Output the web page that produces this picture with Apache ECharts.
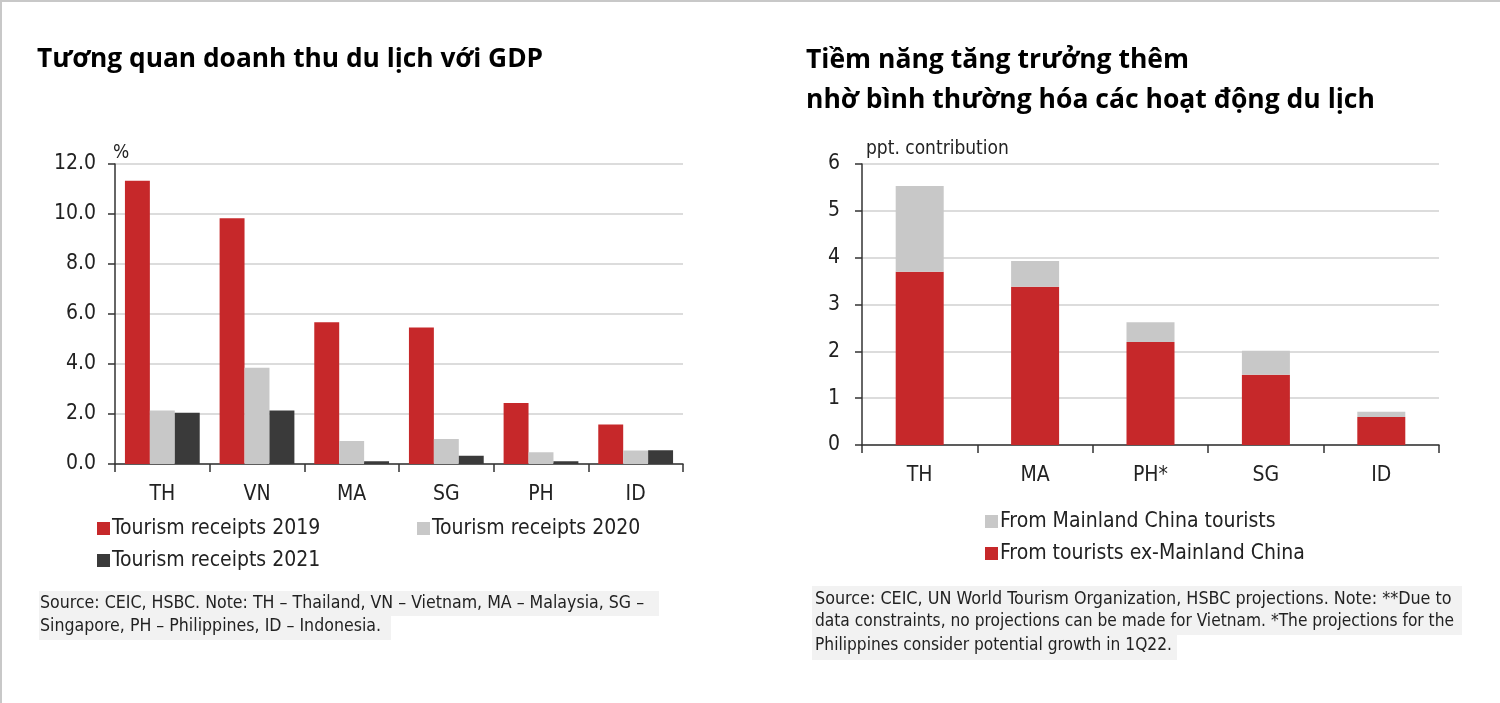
<!DOCTYPE html>
<html>
<head>
<meta charset="utf-8">
<script src="https://cdn.jsdelivr.net/npm/echarts@6/dist/echarts.min.js"></script>
<style>
html,body{margin:0;padding:0;background:#fff;}
#c{width:1500px;height:703px;box-sizing:border-box;border-top:2px solid #c8c8c8;border-left:2px solid #c8c8c8;}
</style>
</head>
<body>
<div id="c"></div>
<script>
// Left chart data
const categoriesL = ['TH', 'VN', 'MA', 'SG', 'PH', 'ID'];
const receipts2019 = [11.33, 9.83, 5.67, 5.46, 2.44, 1.58];
const receipts2020 = [2.14, 3.85, 0.92, 1.0, 0.47, 0.54];
const receipts2021 = [2.05, 2.14, 0.11, 0.33, 0.11, 0.55];
const ticksL = [0, 2, 4, 6, 8, 10, 12];

// Right chart data
const categoriesR = ['TH', 'MA', 'PH*', 'SG', 'ID'];
const fromExChina = [3.70, 3.38, 2.20, 1.50, 0.60];
const fromChina = [1.83, 0.55, 0.42, 0.51, 0.11];
const ticksR = [0, 1, 2, 3, 4, 5, 6];

const NARROW = '"DejaVu Sans Condensed",sans-serif';
const TITLEF = '"Open Sans", Lato, sans-serif';
const RED = '#c6282a', LGRAY = '#c8c8c8', DGRAY = '#3a3a3a';

const chart = echarts.init(document.getElementById('c'), null, {renderer: 'canvas'});

function yAxis(gi, min, max, interval, fmt, name, margin) {
  return {
    type: 'value', gridIndex: gi, min: min, max: max, interval: interval,
    name: name, nameLocation: 'end', nameGap: gi === 0 ? 1 : 5,
    nameTextStyle: {fontFamily: NARROW, fontSize: 19, color: '#222', align: 'left', verticalAlign: 'bottom', padding: [0, 0, 0, gi === 0 ? -2 : 4]},
    axisLine: {show: true, lineStyle: {color: '#333', width: 1.5}},
    axisTick: {show: true, length: 7, lineStyle: {color: '#333', width: 1.5}},
    axisLabel: {fontFamily: NARROW, fontSize: 21, color: '#222', margin: margin, formatter: fmt},
    splitLine: {show: true, lineStyle: {color: '#dcdcdc', width: 2}}
  };
}
function xAxis(gi, cats) {
  return {
    type: 'category', gridIndex: gi, data: cats,
    axisLine: {show: true, lineStyle: {color: '#333', width: 1.5}},
    axisTick: {show: true, length: 8, lineStyle: {color: '#333', width: 1.5}},
    axisLabel: {fontFamily: NARROW, fontSize: 21, color: '#222', margin: 20}
  };
}
function lg(name, left, top) {
  return {
    data: [name], left: left, top: top, itemWidth: 13, itemHeight: 13, itemGap: 0,
    icon: 'rect', padding: 0,
    textStyle: {fontFamily: NARROW, fontSize: 21, color: '#222', padding: [0, 0, 0, -3]}
  };
}
function src(text, left, top, size) {
  return {type: 'text', left: left, top: top, style: {text: text, fontFamily: NARROW, fontSize: size, fill: '#222'}};
}

chart.setOption({
  animation: false,
  grid: [
    {left: 113, top: 162, width: 568, height: 300},
    {left: 860, top: 162, width: 577, height: 281}
  ],
  xAxis: [xAxis(0, categoriesL), xAxis(1, categoriesR)],
  yAxis: [
    yAxis(0, ticksL[0], ticksL[ticksL.length - 1], ticksL[1] - ticksL[0], v => v.toFixed(1), '%', 19),
    yAxis(1, ticksR[0], ticksR[ticksR.length - 1], ticksR[1] - ticksR[0], v => String(v), 'ppt. contribution', 22)
  ],
  legend: [
    lg('Tourism receipts 2019', 95, 516),
    lg('Tourism receipts 2020', 415, 516),
    lg('Tourism receipts 2021', 95, 548),
    lg('From Mainland China tourists', 983, 509),
    lg('From tourists ex-Mainland China', 983, 541)
  ],
  series: [
    {name: 'Tourism receipts 2019', type: 'bar', xAxisIndex: 0, yAxisIndex: 0, data: receipts2019, itemStyle: {color: RED}, barGap: '0%', barCategoryGap: '21%'},
    {name: 'Tourism receipts 2020', type: 'bar', xAxisIndex: 0, yAxisIndex: 0, data: receipts2020, itemStyle: {color: LGRAY}},
    {name: 'Tourism receipts 2021', type: 'bar', xAxisIndex: 0, yAxisIndex: 0, data: receipts2021, itemStyle: {color: DGRAY}},
    {name: 'From tourists ex-Mainland China', type: 'bar', stack: 'r', xAxisIndex: 1, yAxisIndex: 1, data: fromExChina, itemStyle: {color: RED}, barWidth: 48},
    {name: 'From Mainland China tourists', type: 'bar', stack: 'r', xAxisIndex: 1, yAxisIndex: 1, data: fromChina, itemStyle: {color: LGRAY}, barWidth: 48}
  ],
  graphic: [
    {type: 'text', left: 35, top: 45, style: {text: 'Tương quan doanh thu du lịch với GDP', font: 'bold 26.3px ' + TITLEF, fill: '#000'}},
    {type: 'text', left: 804, top: 45, style: {text: 'Tiềm năng tăng trưởng thêm', font: 'bold 26.5px ' + TITLEF, fill: '#000'}},
    {type: 'text', left: 804, top: 85, style: {text: 'nhờ bình thường hóa các hoạt động du lịch', font: 'bold 26.5px ' + TITLEF, fill: '#000'}},
    {type: 'rect', left: 37, top: 589, shape: {width: 620, height: 25}, style: {fill: '#f2f2f2'}},
    {type: 'rect', left: 37, top: 614, shape: {width: 352, height: 24}, style: {fill: '#f2f2f2'}},
    src('Source: CEIC, HSBC. Note: TH – Thailand, VN – Vietnam, MA – Malaysia, SG –', 38, 592, 17.6),
    src('Singapore, PH – Philippines, ID – Indonesia.', 38, 615, 17.6),
    {type: 'rect', left: 810, top: 584, shape: {width: 650, height: 49}, style: {fill: '#f2f2f2'}},
    {type: 'rect', left: 810, top: 633, shape: {width: 365, height: 25}, style: {fill: '#f2f2f2'}},
    src('Source: CEIC, UN World Tourism Organization, HSBC projections. Note: **Due to', 813, 588, 17.8),
    src('data constraints, no projections can be made for Vietnam. *The projections for the', 813, 611, 17.2),
    src('Philippines consider potential growth in 1Q22.', 813, 635, 17.2)
  ]
});
</script>
</body>
</html>
